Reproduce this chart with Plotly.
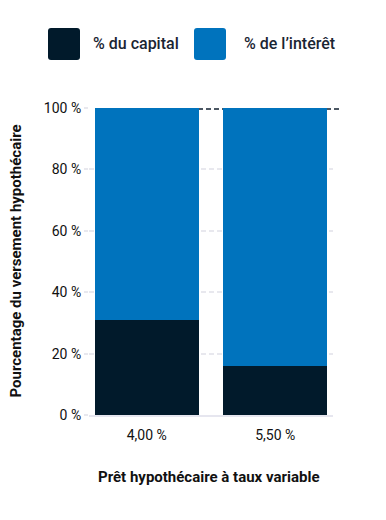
import plotly.graph_objects as go

categories = ["4,00 %", "5,50 %"]
capital_pct = [31, 16]
interet_pct = [69, 84]
series_names = ["% du capital", "% de l\u2019intérêt"]
series_colors = ["#011a2b", "#0073bd"]
y_tickvals = [0, 20, 40, 60, 80, 100]
y_ticktext = ["0 %", "20 %", "40 %", "60 %", "80 %", "100 %"]
x_title = "Prêt hypothécaire à taux variable"
y_title = "Pourcentage du versement hypothécaire"

W, H = 370, 504
L, R, T, B = 81, 45, 100, 97
pw, ph = W - L - R, H - T - B

def px_x(p):
    return (p - L) / pw

def px_y(p):
    return (H - B - p) / ph

fig = go.Figure()
fig.add_trace(go.Bar(x=categories, y=capital_pct, name=series_names[0],
                     marker=dict(color=series_colors[0], line=dict(width=0))))
fig.add_trace(go.Bar(x=categories, y=interet_pct, name=series_names[1],
                     marker=dict(color=series_colors[1], line=dict(width=0))))

shapes = []
# dark dashed reference line at 100 %, extending past the plot on the right
shapes.append(dict(type="line", xref="paper", yref="paper", x0=px_x(190), x1=px_x(334),
                   y0=px_y(101), y1=px_y(101),
                   line=dict(color="#4b5763", width=2, dash="5px,3px"), layer="below"))

def rounded_square(x0p, y0p, size, r, color):
    x1p, y1p = x0p + size, y0p + size
    pts = (f"M {px_x(x0p + r)},{px_y(y0p)} L {px_x(x1p - r)},{px_y(y0p)} "
           f"Q {px_x(x1p)},{px_y(y0p)} {px_x(x1p)},{px_y(y0p + r)} "
           f"L {px_x(x1p)},{px_y(y1p - r)} Q {px_x(x1p)},{px_y(y1p)} {px_x(x1p - r)},{px_y(y1p)} "
           f"L {px_x(x0p + r)},{px_y(y1p)} Q {px_x(x0p)},{px_y(y1p)} {px_x(x0p)},{px_y(y1p - r)} "
           f"L {px_x(x0p)},{px_y(y0p + r)} Q {px_x(x0p)},{px_y(y0p)} {px_x(x0p + r)},{px_y(y0p)} Z")
    return dict(type="path", xref="paper", yref="paper", path=pts,
                fillcolor=color, line=dict(width=0), layer="above")

shapes.append(rounded_square(40, 20, 32, 3, series_colors[0]))
shapes.append(rounded_square(186, 20, 32, 3, series_colors[1]))

legend_font = dict(family="Roboto", size=16, color="#1a2533", weight=500)
title_font = dict(family="Roboto", size=15, color="#111111", weight="bold")
annotations = [
    dict(xref="paper", yref="paper", x=px_x(83), y=px_y(36), text=series_names[0],
         showarrow=False, xanchor="left", yanchor="middle", font=legend_font),
    dict(xref="paper", yref="paper", x=px_x(234), y=px_y(36), text=series_names[1],
         showarrow=False, xanchor="left", yanchor="middle", font=legend_font),
    dict(xref="paper", yref="paper", x=px_x(200), y=px_y(469), text=x_title,
         showarrow=False, xanchor="center", yanchor="middle", font=title_font),
    dict(xref="paper", yref="paper", x=px_x(7), y=0.5, text=y_title, textangle=-90,
         showarrow=False, xanchor="center", yanchor="middle", font=title_font),
]

fig.update_layout(
    width=W, height=H,
    margin=dict(l=L, r=R, t=T, b=B, pad=0),
    barmode="stack",
    bargap=0.1875,
    showlegend=False,
    plot_bgcolor="white",
    paper_bgcolor="white",
    font=dict(family="Roboto", size=14, color="#111111"),
    shapes=shapes,
    annotations=annotations,
    xaxis=dict(
        range=[-0.45, 1.45],
        showgrid=False,
        showline=True, linecolor="#e6e6ef", linewidth=2,
        ticks="outside", ticklen=6, tickcolor="rgba(0,0,0,0)",
        tickfont=dict(size=14, color="#111111"),
        automargin=False,
    ),
    yaxis=dict(
        range=[0, 100],
        tickvals=y_tickvals, ticktext=y_ticktext,
        showgrid=True, gridcolor="#e8e8ee", gridwidth=1.5, griddash="5px,3px",
        zeroline=False, showline=False,
        ticks="outside", ticklen=4, tickcolor="#e8e8ee", tickwidth=1.5,
        tickfont=dict(size=14, color="#111111"),
        automargin=False,
    ),
)

fig.write_html("out.html")
